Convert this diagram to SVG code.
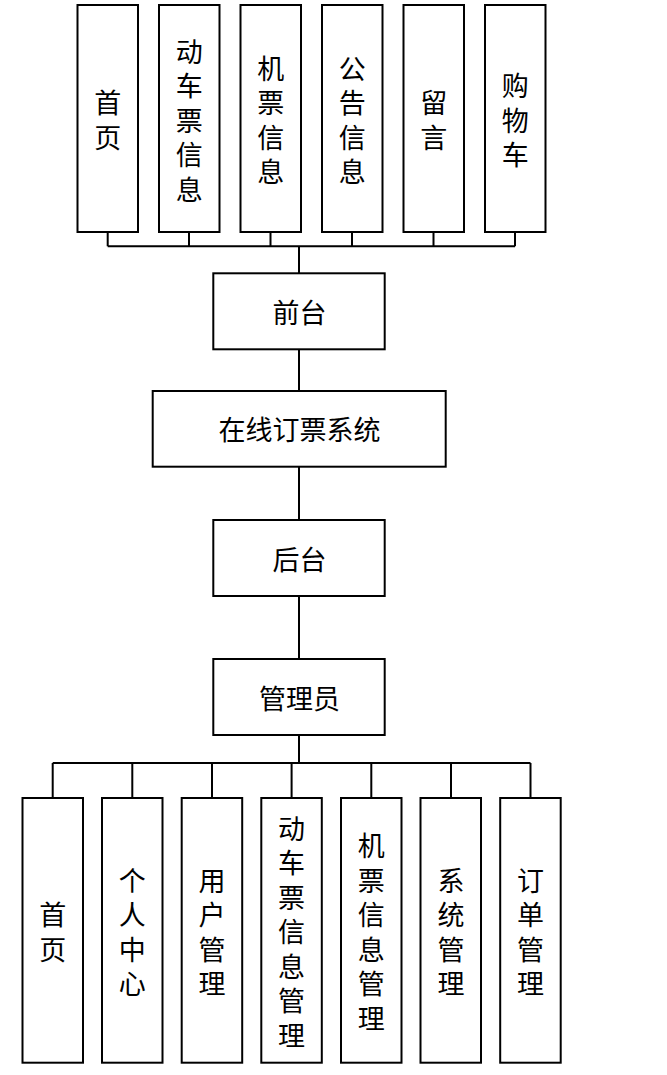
<svg xmlns="http://www.w3.org/2000/svg" width="667" height="1075" viewBox="0 0 667 1075">
<style>
.box{fill:#fff;stroke:#000;stroke-width:2}
.ln{fill:none;stroke:#000;stroke-width:2}
text{font-family:"Noto Sans CJK SC","Liberation Sans",sans-serif;font-size:27px;fill:#000;text-anchor:middle;dominant-baseline:central}
</style>
<rect width="667" height="1075" fill="#fff"/>
<g id="connectors">
<path class="ln" d="M107.7 232V246.3M189 232V246.3M270.5 232V246.3M352 232V246.3M433.5 232V246.3M515 232V246.3M107.7 246.3H515M299 246.3V273.3"/>
<path class="ln" d="M299 349.3V391M299 466.7V520M299 596V659M299 735V763"/>
<path class="ln" d="M52.7 763H530.5M52.7 763V798M132.3 763V798M212 763V798M291.6 763V798M371.3 763V798M451 763V798M530.5 763V798"/>
</g>
<g id="t1"><rect class="box" x="77.5" y="5" width="60.5" height="227"/><text><tspan x="107.7" y="101.2">首</tspan><tspan x="107.7" y="135.7">页</tspan></text></g>
<g id="t2"><rect class="box" x="159" y="5" width="60.5" height="227"/><text><tspan x="189.2" y="49.5">动</tspan><tspan x="189.2" y="84">车</tspan><tspan x="189.2" y="118.5">票</tspan><tspan x="189.2" y="153">信</tspan><tspan x="189.2" y="187.5">息</tspan></text></g>
<g id="t3"><rect class="box" x="240.5" y="5" width="60.5" height="227"/><text><tspan x="270.7" y="66.7">机</tspan><tspan x="270.7" y="101.2">票</tspan><tspan x="270.7" y="135.7">信</tspan><tspan x="270.7" y="170.2">息</tspan></text></g>
<g id="t4"><rect class="box" x="322" y="5" width="60.5" height="227"/><text><tspan x="352.2" y="66.7">公</tspan><tspan x="352.2" y="101.2">告</tspan><tspan x="352.2" y="135.7">信</tspan><tspan x="352.2" y="170.2">息</tspan></text></g>
<g id="t5"><rect class="box" x="403.5" y="5" width="60.5" height="227"/><text><tspan x="433.7" y="101.2">留</tspan><tspan x="433.7" y="135.7">言</tspan></text></g>
<g id="t6"><rect class="box" x="485" y="5" width="60.5" height="227"/><text><tspan x="515.2" y="84">购</tspan><tspan x="515.2" y="118.5">物</tspan><tspan x="515.2" y="153">车</tspan></text></g>
<g id="qiantai"><rect class="box" x="213.3" y="273.3" width="171.4" height="76"/><text x="299.5" y="311.3">前台</text></g>
<g id="system"><rect class="box" x="152.7" y="391" width="293" height="75.7"/><text x="299.5" y="428.8">在线订票系统</text></g>
<g id="houtai"><rect class="box" x="213.3" y="520" width="171.4" height="76"/><text x="299.5" y="558">后台</text></g>
<g id="admin"><rect class="box" x="213.3" y="659" width="171.4" height="76"/><text x="299.5" y="697">管理员</text></g>
<g id="b1"><rect class="box" x="22.5" y="798" width="60.5" height="264.7"/><text><tspan x="52.7" y="913.1">首</tspan><tspan x="52.7" y="947.6">页</tspan></text></g>
<g id="b2"><rect class="box" x="102" y="798" width="60.5" height="264.7"/><text><tspan x="132.3" y="878.6">个</tspan><tspan x="132.3" y="913.1">人</tspan><tspan x="132.3" y="947.6">中</tspan><tspan x="132.3" y="982.1">心</tspan></text></g>
<g id="b3"><rect class="box" x="181.7" y="798" width="60.5" height="264.7"/><text><tspan x="212" y="878.6">用</tspan><tspan x="212" y="913.1">户</tspan><tspan x="212" y="947.6">管</tspan><tspan x="212" y="982.1">理</tspan></text></g>
<g id="b4"><rect class="box" x="261.3" y="798" width="60.5" height="264.7"/><text><tspan x="291.6" y="826.8">动</tspan><tspan x="291.6" y="861.3">车</tspan><tspan x="291.6" y="895.8">票</tspan><tspan x="291.6" y="930.3">信</tspan><tspan x="291.6" y="964.8">息</tspan><tspan x="291.6" y="999.3">管</tspan><tspan x="291.6" y="1033.8">理</tspan></text></g>
<g id="b5"><rect class="box" x="341" y="798" width="60.5" height="264.7"/><text><tspan x="371.3" y="844.1">机</tspan><tspan x="371.3" y="878.6">票</tspan><tspan x="371.3" y="913.1">信</tspan><tspan x="371.3" y="947.6">息</tspan><tspan x="371.3" y="982.1">管</tspan><tspan x="371.3" y="1016.6">理</tspan></text></g>
<g id="b6"><rect class="box" x="420.5" y="798" width="60.5" height="264.7"/><text><tspan x="451" y="878.6">系</tspan><tspan x="451" y="913.1">统</tspan><tspan x="451" y="947.6">管</tspan><tspan x="451" y="982.1">理</tspan></text></g>
<g id="b7"><rect class="box" x="500.2" y="798" width="60.5" height="264.7"/><text><tspan x="530.5" y="878.6">订</tspan><tspan x="530.5" y="913.1">单</tspan><tspan x="530.5" y="947.6">管</tspan><tspan x="530.5" y="982.1">理</tspan></text></g>
</svg>
